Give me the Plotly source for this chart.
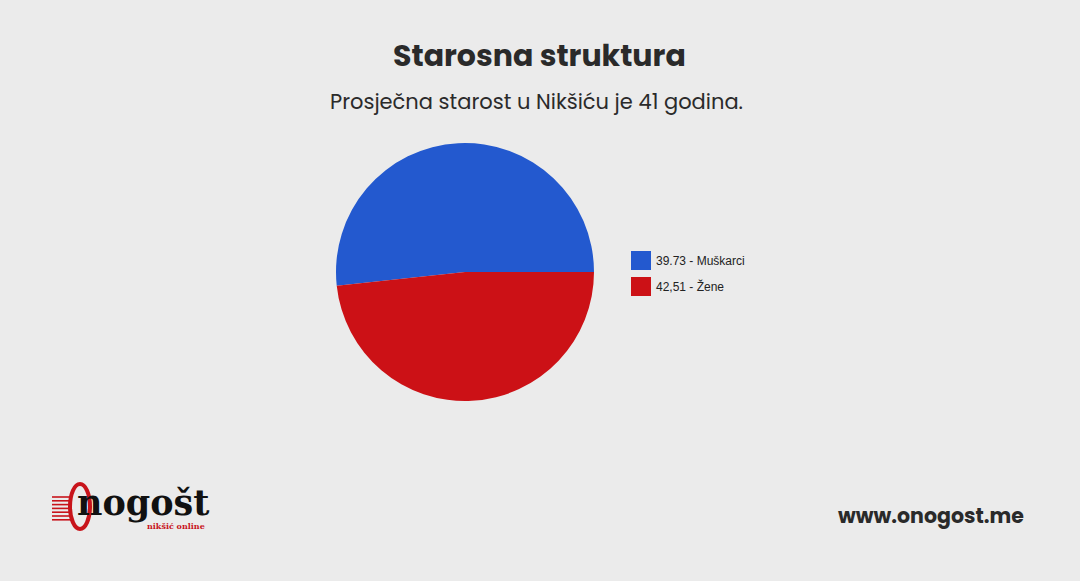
import plotly.graph_objects as go

# Data
legend_labels = ["39.73 - Muškarci", "42,51 - Žene"]
slice_shares = [42.51, 39.73]   # angular shares as drawn in the picture
slice_colors = ["#2359cf", "#cc1116"]
title_text = "Starosna struktura"
subtitle_text = "Prosječna starost u Nikšiću je 41 godina."
site_text = "www.onogost.me"
logo_word = "nogošt"
logo_tagline = "nikšić online"

W, H = 1080, 581
BG = "#ebebeb"

# first slice runs clockwise and ends at 3 o'clock
start_angle = 90 - 360 * slice_shares[0] / sum(slice_shares)

fig = go.Figure()
fig.add_trace(go.Pie(
    labels=legend_labels,
    values=slice_shares,
    marker=dict(colors=slice_colors, line=dict(width=0)),
    sort=False,
    direction="clockwise",
    rotation=start_angle,
    textinfo="none",
    hoverinfo="label",
    showlegend=False,
    domain=dict(x=[336 / W, 594 / W], y=[(H - 401) / H, (H - 143) / H]),
))

def px(x):
    return x / W

def py(y):
    return 1 - y / H

shapes = []
annotations = []

# legend
for i, (lab, col) in enumerate(zip(legend_labels, slice_colors)):
    y0 = 251 + i * 26
    shapes.append(dict(type="rect", xref="paper", yref="paper",
                       x0=px(631), x1=px(651), y0=py(y0 + 19), y1=py(y0),
                       fillcolor=col, line=dict(width=0)))
    annotations.append(dict(x=px(654), y=py(y0 + 9.5), xref="paper", yref="paper",
                            text=lab, showarrow=False, xanchor="left", yanchor="middle",
                            font=dict(family="Arial, Liberation Sans", size=12, color="#222222")))

# title & subtitle
annotations.append(dict(x=px(539), y=py(55), xref="paper", yref="paper", text="<b>" + title_text + "</b>",
                        showarrow=False, xanchor="center", yanchor="middle",
                        font=dict(family="Poppins, Inter, Open Sans", size=30, color="#2a2a2a")))
annotations.append(dict(x=px(536), y=py(101), xref="paper", yref="paper", text=subtitle_text,
                        showarrow=False, xanchor="center", yanchor="middle",
                        font=dict(family="Poppins, Inter, Open Sans", size=21, color="#2a2a2a")))

# website
annotations.append(dict(x=px(1026), y=py(515), xref="paper", yref="paper", text="<b>" + site_text + "</b>",
                        showarrow=False, xanchor="right", yanchor="middle",
                        font=dict(family="Poppins, Inter, Open Sans", size=20.5, color="#2a2a2a")))

# logo: red stripes
for k in range(7):
    yy = 497 + k * 3.8
    shapes.append(dict(type="line", xref="paper", yref="paper",
                       x0=px(52), x1=px(72), y0=py(yy), y1=py(yy),
                       line=dict(color="#c8141b", width=1.6)))
# logo: red ring
shapes.append(dict(type="circle", xref="paper", yref="paper",
                   x0=px(70), x1=px(90), y0=py(529), y1=py(484),
                   line=dict(color="#c8141b", width=4), fillcolor="rgba(0,0,0,0)"))
annotations.append(dict(x=px(75), y=py(502), xref="paper", yref="paper", text="<b>" + logo_word + "</b>",
                        showarrow=False, xanchor="left", yanchor="middle",
                        font=dict(family="DejaVu Serif, Liberation Serif", size=35, color="#111111")))
annotations.append(dict(x=px(207), y=py(526), xref="paper", yref="paper", text="<b>" + logo_tagline + "</b>",
                        showarrow=False, xanchor="right", yanchor="middle",
                        font=dict(family="DejaVu Serif, Liberation Serif", size=8, color="#c8141b")))

fig.update_layout(
    width=W, height=H,
    paper_bgcolor=BG, plot_bgcolor=BG,
    margin=dict(l=0, r=0, t=0, b=0),
    shapes=shapes,
    annotations=annotations,
    showlegend=False,
)

fig.write_html("out.html", config={"displayModeBar": False},
               post_script="document.body.style.margin='0';document.body.style.overflow='hidden';")
